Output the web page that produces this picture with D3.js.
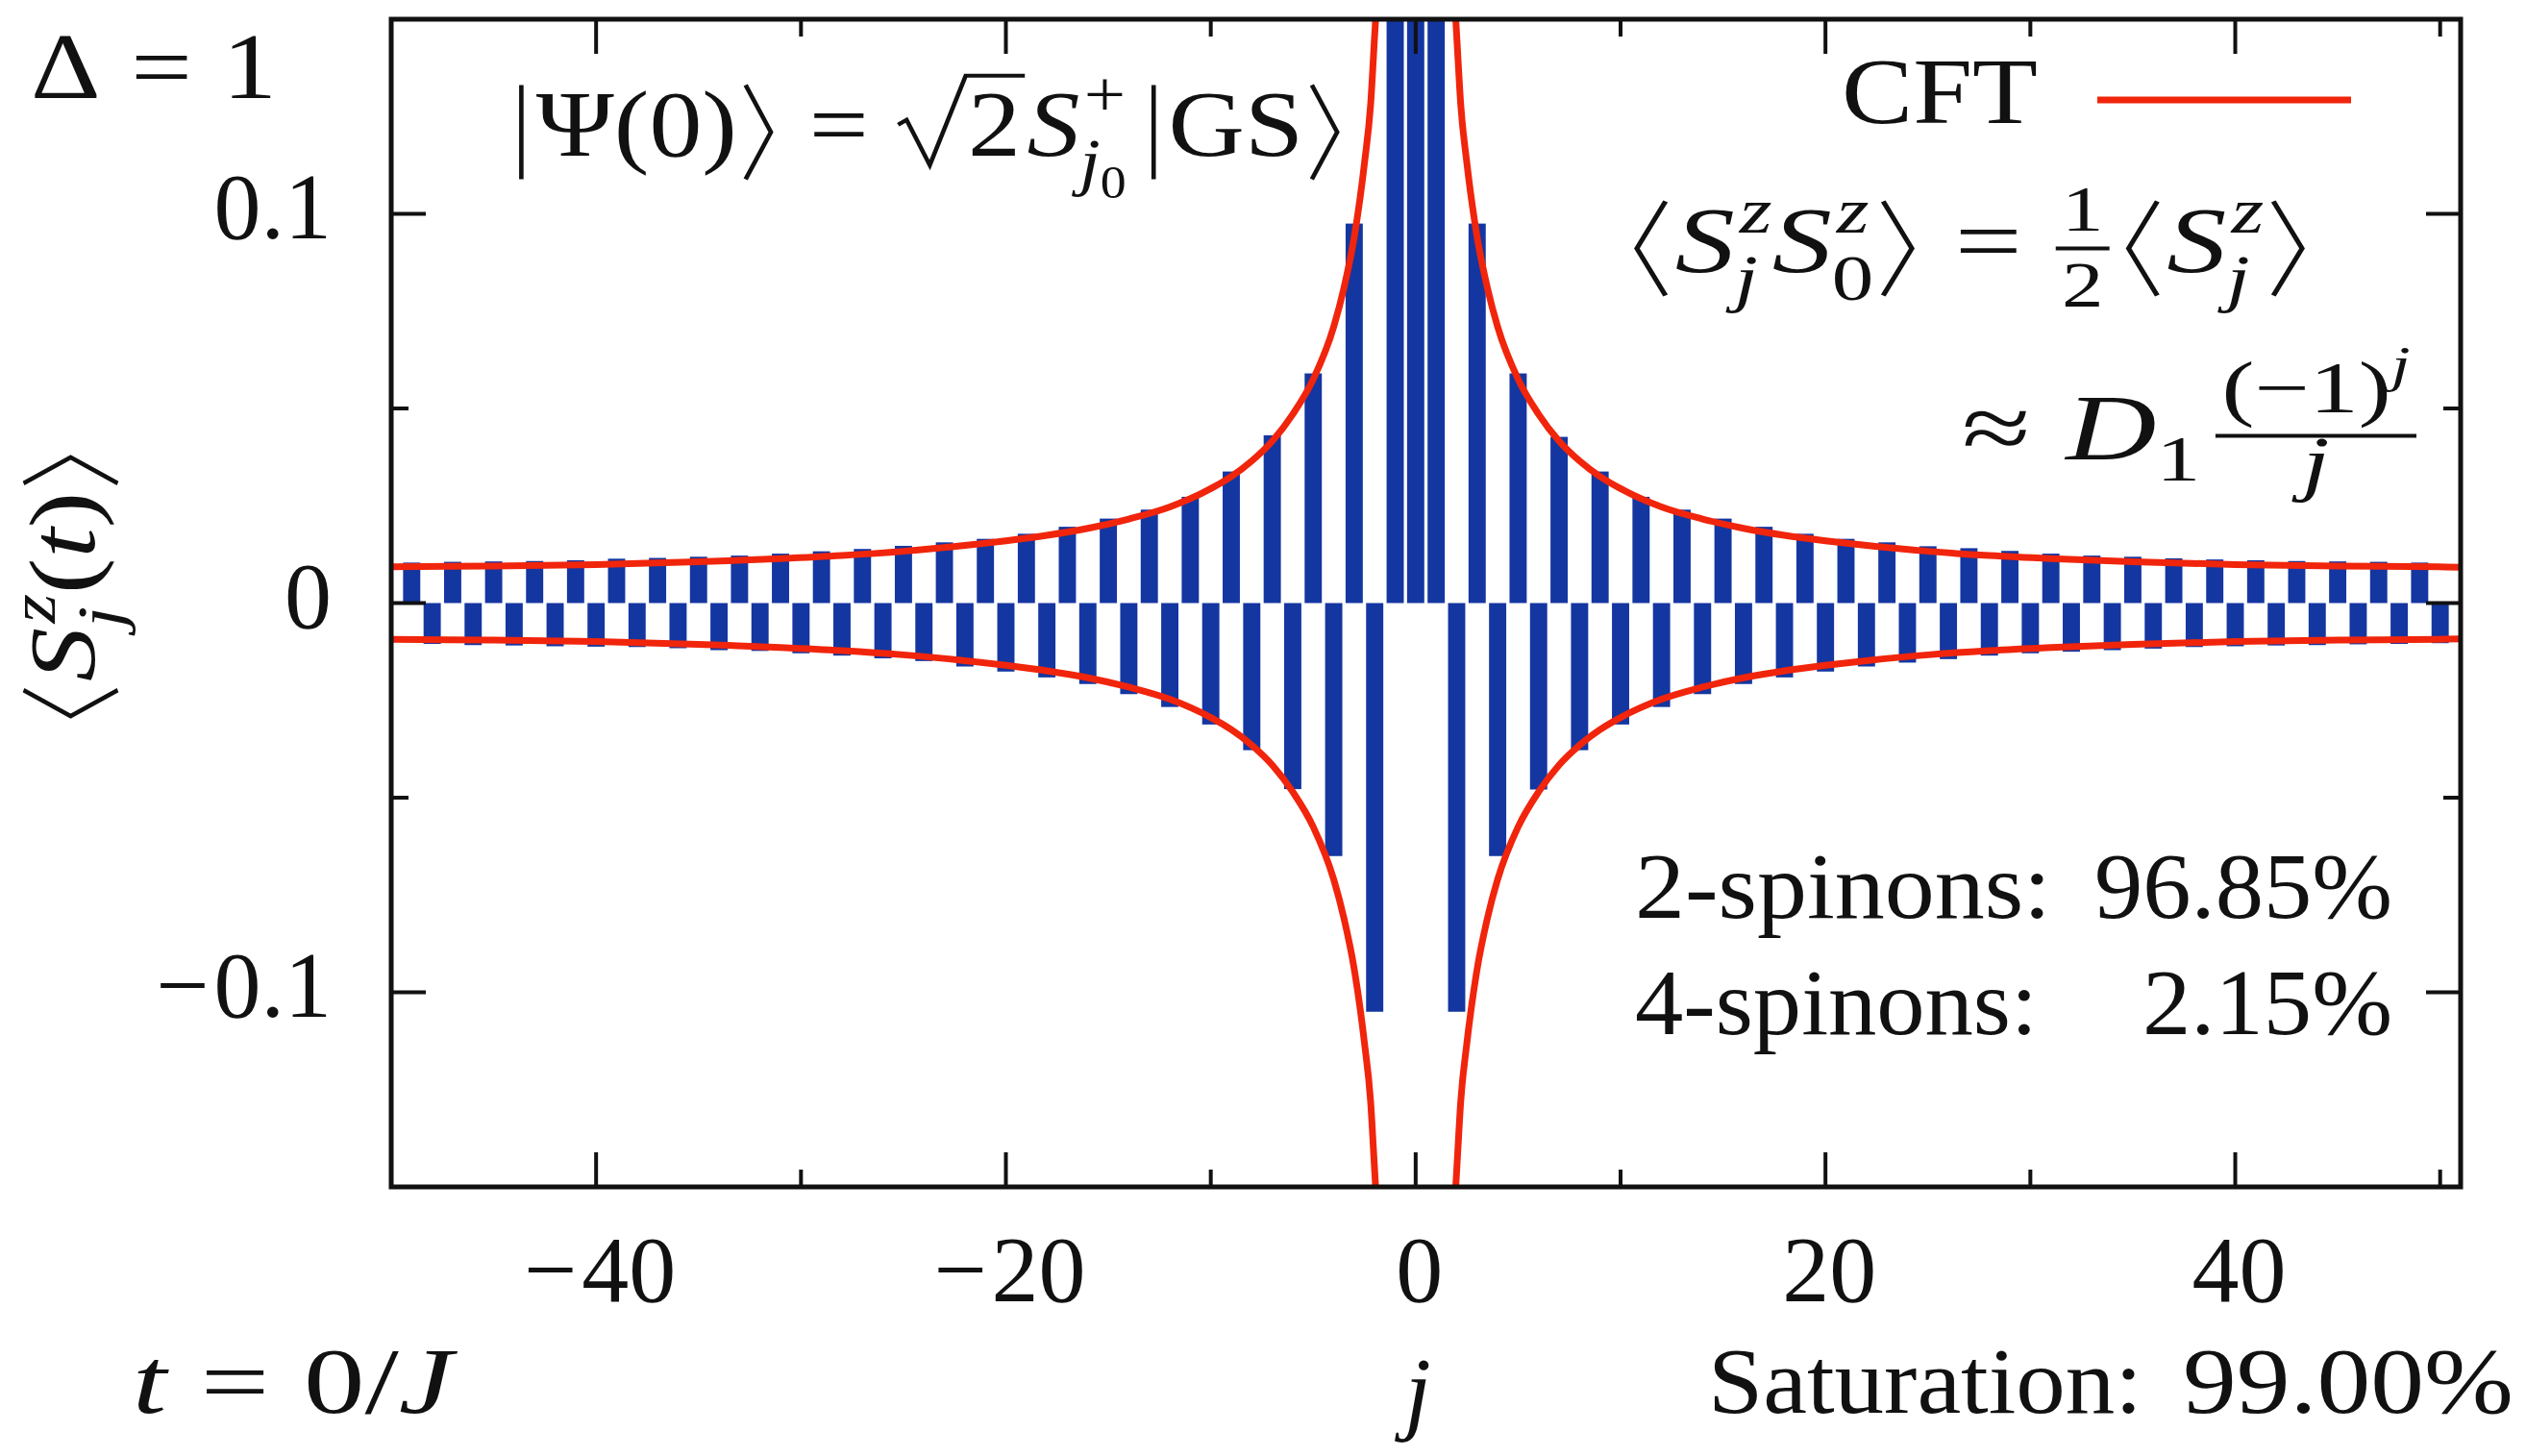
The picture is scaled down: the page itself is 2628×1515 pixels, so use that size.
<!DOCTYPE html>
<html>
<head>
<meta charset="utf-8">
<script src="https://cdn.jsdelivr.net/npm/d3@7"></script>
<style>
  body { margin: 0; background: #fff; }
  svg { display: block; }
</style>
</head>
<body>
<div id="root"></div>
<script>
const WIDTH = 2628
const HEIGHT = 1515
const PLOT = { left: 407, right: 2560, top: 20, bottom: 1235 }
const FONT = 98
const FONT_FAMILY = "'Liberation Serif', 'Times New Roman', serif"
const SCRIPT = 0.7
const INK = '#111'
const BAR_COLOR = '#1436a0'
const CFT_COLOR = '#f0250c'
const BAR_WIDTH = 0.84
const MAJOR_TICK = 36
const MINOR_TICK = 18

// lattice sites j and <S^z_j(t=0)> (j = -1, 0, 1 run off the top)
const sites = [
  -49, -48, -47, -46, -45, -44, -43, -42, -41, -40,
  -39, -38, -37, -36, -35, -34, -33, -32, -31, -30,
  -29, -28, -27, -26, -25, -24, -23, -22, -21, -20,
  -19, -18, -17, -16, -15, -14, -13, -12, -11, -10,
  -9, -8, -7, -6, -5, -4, -3, -2, -1, 0,
  1, 2, 3, 4, 5, 6, 7, 8, 9, 10,
  11, 12, 13, 14, 15, 16, 17, 18, 19, 20,
  21, 22, 23, 24, 25, 26, 27, 28, 29, 30,
  31, 32, 33, 34, 35, 36, 37, 38, 39, 40,
  41, 42, 43, 44, 45, 46, 47, 48, 49, 50
]
const magnetization = [
  0.0104, -0.0105, 0.0106, -0.0108, 0.0107, -0.0109, 0.0108, -0.0111, 0.0110, -0.0112,
  0.0114, -0.0113, 0.0116, -0.0116, 0.0119, -0.0121, 0.0122, -0.0123, 0.0127, -0.0129,
  0.0133, -0.0135, 0.0139, -0.0142, 0.0147, -0.0149, 0.0156, -0.0163, 0.0165, -0.0176,
  0.0178, -0.0191, 0.0196, -0.0208, 0.0217, -0.0234, 0.0240, -0.0267, 0.0273, -0.0312,
  0.0338, -0.0378, 0.0431, -0.0478, 0.0590, -0.0650, 0.0975, -0.1050, 0.30, 0.50,
  0.30, -0.1050, 0.0975, -0.0650, 0.0590, -0.0479, 0.0427, -0.0378, 0.0338, -0.0312,
  0.0273, -0.0267, 0.0240, -0.0234, 0.0217, -0.0208, 0.0196, -0.0191, 0.0178, -0.0176,
  0.0165, -0.0163, 0.0156, -0.0153, 0.0146, -0.0144, 0.0141, -0.0135, 0.0134, -0.0129,
  0.0127, -0.0125, 0.0122, -0.0121, 0.0119, -0.0117, 0.0115, -0.0113, 0.0112, -0.0111,
  0.0110, -0.0109, 0.0108, -0.0108, 0.0107, -0.0106, 0.0106, -0.0105, 0.0104, -0.0103
]

// CFT envelope: distance |j| and its magnitude
const cftDistance = [1.9, 2, 2.2, 2.5, 3, 3.5, 4, 5, 6, 7, 8, 9, 10, 12, 14, 16, 18, 20, 22, 25, 28, 31, 35, 40, 45, 50, 51]
const cftEnvelope = [0.155, 0.146, 0.128, 0.113, 0.094, 0.081, 0.071, 0.0575, 0.0485, 0.0416, 0.0365, 0.0325, 0.0294,
  0.0247, 0.0216, 0.0192, 0.0174, 0.0160, 0.0148, 0.0133, 0.0122, 0.0114, 0.0106, 0.0099, 0.0095, 0.0093, 0.0092]

const xTicks = [-40, -20, 0, 20, 40]
const xTickLabels = ['−40', '−20', '0', '20', '40']
const xMinorTicks = [-50, -30, -10, 10, 30, 50]
const yTicks = [-0.1, 0, 0.1]
const yTickLabels = ['−0.1', '0', '0.1']
const yMinorTicks = [-0.05, 0.05]

const xScale = d3.scaleLinear().domain([-50, 51]).range([PLOT.left, PLOT.right])
const yScale = d3.scaleLinear().domain([-0.15, 0.15]).range([PLOT.bottom, PLOT.top])

const svg = d3.select('#root')
  .append('svg')
  .attr('width', WIDTH)
  .attr('height', HEIGHT)
  .attr('font-family', FONT_FAMILY)

svg.append('rect').attr('width', WIDTH).attr('height', HEIGHT).attr('fill', '#fff')

svg.append('clipPath')
  .attr('id', 'plot-clip')
  .append('rect')
  .attr('x', PLOT.left)
  .attr('y', PLOT.top)
  .attr('width', PLOT.right - PLOT.left)
  .attr('height', PLOT.bottom - PLOT.top)

const plot = svg.append('g').attr('clip-path', 'url(#plot-clip)')

// bars
plot.selectAll('rect.bar')
  .data(sites.map((j, i) => ({ j, v: magnetization[i] })))
  .enter()
  .append('rect')
  .attr('class', 'bar')
  .attr('x', d => xScale(d.j - BAR_WIDTH / 2))
  .attr('width', xScale(BAR_WIDTH) - xScale(0))
  .attr('y', d => yScale(Math.max(d.v, 0)))
  .attr('height', d => Math.abs(yScale(d.v) - yScale(0)))
  .attr('fill', BAR_COLOR)

// CFT envelopes, four branches
const cftLine = d3.line()
  .x(d => xScale(d[0]))
  .y(d => yScale(d[1]))
  .curve(d3.curveMonotoneX)

const branches = [[1, 1], [-1, 1], [1, -1], [-1, -1]].map(([sx, sy]) => {
  const pts = cftDistance.map((r, i) => [sx * r, sy * cftEnvelope[i]])
  return sx < 0 ? pts.reverse() : pts
})

plot.selectAll('path.cft')
  .data(branches)
  .enter()
  .append('path')
  .attr('class', 'cft')
  .attr('d', cftLine)
  .attr('fill', 'none')
  .attr('stroke', CFT_COLOR)
  .attr('stroke-width', 7)

// frame and ticks
const axes = svg.append('g').attr('stroke', INK)

const tickLines = [
  ...xTicks.map(t => ({ x: xScale(t), len: MAJOR_TICK, dir: 'x' })),
  ...xMinorTicks.map(t => ({ x: xScale(t), len: MINOR_TICK, dir: 'x' })),
  ...yTicks.map(t => ({ y: yScale(t), len: MAJOR_TICK, dir: 'y' })),
  ...yMinorTicks.map(t => ({ y: yScale(t), len: MINOR_TICK, dir: 'y' }))
]

tickLines.forEach(t => {
  if (t.dir === 'x') {
    axes.append('line').attr('x1', t.x).attr('x2', t.x).attr('y1', PLOT.bottom).attr('y2', PLOT.bottom - t.len).attr('stroke-width', 4)
    axes.append('line').attr('x1', t.x).attr('x2', t.x).attr('y1', PLOT.top).attr('y2', PLOT.top + t.len).attr('stroke-width', 4)
  } else {
    axes.append('line').attr('y1', t.y).attr('y2', t.y).attr('x1', PLOT.left).attr('x2', PLOT.left + t.len).attr('stroke-width', 4)
    axes.append('line').attr('y1', t.y).attr('y2', t.y).attr('x1', PLOT.right).attr('x2', PLOT.right - t.len).attr('stroke-width', 4)
  }
})

axes.append('rect')
  .attr('x', PLOT.left)
  .attr('y', PLOT.top)
  .attr('width', PLOT.right - PLOT.left)
  .attr('height', PLOT.bottom - PLOT.top)
  .attr('fill', 'none')
  .attr('stroke-width', 5)

// legend sample line
svg.append('line')
  .attr('x1', 2182).attr('x2', 2446)
  .attr('y1', 104).attr('y2', 104)
  .attr('stroke', CFT_COLOR)
  .attr('stroke-width', 7)

// --- tiny math typesetter ---
const R = s => ({ k: 'r', s })
const I = s => ({ k: 'i', s })
const G = em => ({ k: 'gap', em })
const SUB = (...items) => ({ k: 'sub', items })
const SUP = (...items) => ({ k: 'sup', items })
const SS = (sup, sub) => ({ k: 'ss', sup, sub })
const FRAC = (num, den, opts) => ({ k: 'frac', num, den, ...opts })
const SQRT = (...items) => ({ k: 'sqrt', items })
const LANG = { k: 'lang' }
const RANG = { k: 'rang' }
const BAR = { k: 'bar' }

function stroke(g, d, s) {
  g.append('path').attr('d', d).attr('fill', 'none').attr('stroke', INK).attr('stroke-width', s * 0.042)
}

function typeset(g, items, x, y, s) {
  let cx = x
  items.forEach(it => { cx += setItem(g, it, cx, y, s) })
  return cx - x
}

function setItem(g, it, x, y, s) {
  if (it.k === 'r' || it.k === 'i') {
    const t = g.append('text')
      .attr('x', x).attr('y', y)
      .attr('font-family', FONT_FAMILY)
      .attr('font-size', s)
      .attr('font-style', it.k === 'i' ? 'italic' : 'normal')
      .attr('fill', INK)
      .text(it.s)
    return t.node().getComputedTextLength()
  }
  if (it.k === 'gap') return it.em * s
  if (it.k === 'sup') return typeset(g, it.items, x, y - 0.42 * s, s * SCRIPT)
  if (it.k === 'sub') return typeset(g, it.items, x, y + 0.22 * s, s * SCRIPT)
  if (it.k === 'ss') {
    const a = typeset(g, it.sup, x + 0.04 * s, y - 0.42 * s, s * SCRIPT)
    const b = typeset(g, it.sub, x, y + 0.3 * s, s * SCRIPT)
    return Math.max(a + 0.04 * s, b)
  }
  if (it.k === 'frac') {
    const fs = s * (it.scale || SCRIPT)
    const num = g.append('g')
    const den = g.append('g')
    const wn = typeset(num, it.num, 0, y - (it.up || 0.44) * s, fs)
    const wd = typeset(den, it.den, 0, y + (it.down || 0.37) * s, fs)
    const w = Math.max(wn, wd) + 0.1 * s
    num.attr('transform', `translate(${x + (w - wn) / 2},0)`)
    den.attr('transform', `translate(${x + (w - wd) / 2},0)`)
    g.append('line')
      .attr('x1', x).attr('x2', x + w)
      .attr('y1', y - 0.25 * s).attr('y2', y - 0.25 * s)
      .attr('stroke', INK).attr('stroke-width', s * 0.04)
    return w
  }
  if (it.k === 'sqrt') {
    const w0 = 0.66 * s
    const wr = typeset(g, it.items, x + w0, y, s)
    stroke(g, `M${x},${y - 0.33 * s}L${x + 0.08 * s},${y - 0.38 * s}L${x + 0.3 * s},${y + 0.1 * s}L${x + 0.64 * s},${y - 0.85 * s}H${x + w0 + wr + 0.04 * s}`, s)
    return w0 + wr + 0.06 * s
  }
  if (it.k === 'lang') {
    stroke(g, `M${x + 0.32 * s},${y - 0.75 * s}L${x + 0.08 * s},${y - 0.25 * s}L${x + 0.32 * s},${y + 0.25 * s}`, s)
    return 0.4 * s
  }
  if (it.k === 'rang') {
    stroke(g, `M${x + 0.08 * s},${y - 0.75 * s}L${x + 0.32 * s},${y - 0.25 * s}L${x + 0.08 * s},${y + 0.25 * s}`, s)
    return 0.4 * s
  }
  if (it.k === 'bar') {
    stroke(g, `M${x + 0.14 * s},${y - 0.75 * s}V${y + 0.25 * s}`, s)
    return 0.28 * s
  }
  return 0
}

// width: fit horizontally to that many px; anchor start | middle | end
function place(items, opts) {
  const g = svg.append('g')
  const natural = typeset(g, items, 0, 0, opts.size || FONT)
  const sx = opts.width ? opts.width / natural : 1
  const w = natural * sx
  if (opts.rotate) {
    g.attr('transform', `translate(${opts.x},${opts.y}) rotate(-90) scale(${sx},1)`)
  } else {
    const x0 = opts.anchor === 'end' ? opts.x - w : opts.anchor === 'middle' ? opts.x - w / 2 : opts.x
    g.attr('transform', `translate(${x0},${opts.y}) scale(${sx},1)`)
  }
  return g
}

const minusParts = label => label.startsWith('−')
  ? [R('−'), G(0.05), R(label.slice(1))]
  : [R(label)]

// tick labels
xTicks.forEach((t, i) => {
  place(minusParts(xTickLabels[i]), { x: xScale(t) + 4, y: 1354, anchor: 'middle' })
})
yTicks.forEach((t, i) => {
  place(minusParts(yTickLabels[i]), { x: 345, y: yScale(t) + 25, anchor: 'end' })
})

// axis titles
place([LANG, I('S'), SS([I('z')], [I('j')]), R('('), I('t'), R(')'), RANG], { x: 98, y: 754, width: 287, rotate: true })
place([I('j')], { x: 1475, y: 1480, anchor: 'middle' })

// annotations
place([R('Δ'), G(0.28), R('='), G(0.28), R('1')], { x: 32, y: 102, width: 256 })
place([BAR, R('Ψ(0)'), RANG, G(0.28), R('='), G(0.28), SQRT(R('2')), I('S'),
  SS([R('+')], [I('j'), SUB(R('0'))]), G(0.12), BAR, R('GS'), RANG], { x: 527, y: 162, width: 873 })
place([R('CFT')], { x: 1916, y: 128, width: 204 })
place([LANG, I('S'), SS([I('z')], [I('j')]), I('S'), SS([I('z')], [R('0')]), RANG, G(0.28), R('='), G(0.28),
  FRAC([R('1')], [R('2')]), G(0.08), LANG, I('S'), SS([I('z')], [I('j')]), RANG], { x: 1693, y: 283, width: 712 })
place([R('≈'), G(0.28), I('D'), SUB(R('1')), G(0.12),
  FRAC([R('(−1)'), SUP(I('j'))], [I('j')], { scale: 0.78, up: 0.5, down: 0.3 })], { x: 2041, y: 478, width: 473 })

place([R('2-spinons:')], { x: 1701, y: 955, width: 433 })
place([R('96.85%')], { x: 2489, y: 955, width: 310, anchor: 'end' })
place([R('4-spinons:')], { x: 1701, y: 1076, width: 419 })
place([R('2.15%')], { x: 2489, y: 1076, width: 260, anchor: 'end' })

place([I('t'), G(0.28), R('='), G(0.28), R('0/'), I('J')], { x: 138, y: 1470, width: 333 })
place([R('Saturation:')], { x: 1777, y: 1470, width: 452 })
place([R('99.00%')], { x: 2615, y: 1470, width: 344, anchor: 'end' })
</script>
</body>
</html>
